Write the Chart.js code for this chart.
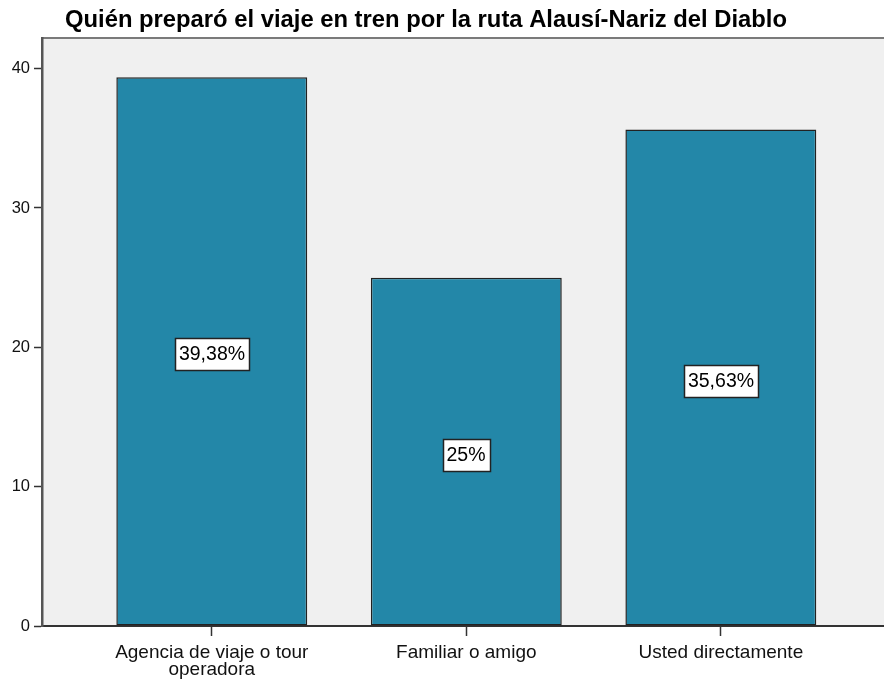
<!DOCTYPE html>
<html>
<head>
<meta charset="utf-8">
<script src="https://cdn.jsdelivr.net/npm/chart.js@4.4.0/dist/chart.umd.min.js"></script>
<style>
  html, body { margin: 0; padding: 0; background: #fff; }
  #wrap { width: 884px; height: 686px; position: relative; }
</style>
</head>
<body>
<div id="wrap"><canvas id="chart"></canvas></div>
<script>
// values
const chartTitle = 'Quién preparó el viaje en tren por la ruta Alausí-Nariz del Diablo';
const categories = [['Agencia de viaje o tour', 'operadora'], 'Familiar o amigo', 'Usted directamente'];
const percentages = [39.38, 25, 35.63];
const yTicks = [0, 10, 20, 30, 40];

const FONT = '"Liberation Sans", Arial, sans-serif';

// gray plot area and the thin frame line on top
const plotBackground = {
    id: 'plotBackground',
    beforeDraw(chart) {
        const { ctx, chartArea: a } = chart;
        ctx.save();
        ctx.fillStyle = '#f0f0f0';
        ctx.fillRect(a.left, a.top, a.right - a.left, a.bottom - a.top);
        ctx.strokeStyle = '#7a7a7a';
        ctx.lineWidth = 2;
        ctx.beginPath();
        ctx.moveTo(a.left, a.top);
        ctx.lineTo(a.right, a.top);
        ctx.stroke();
        ctx.restore();
    }
};

// white boxed percentage in the middle of each bar
const barLabels = {
    id: 'barLabels',
    afterDatasetsDraw(chart) {
        const ctx = chart.ctx;
        const meta = chart.getDatasetMeta(0);
        ctx.save();
        ctx.font = '19.5px ' + FONT;
        ctx.textAlign = 'center';
        ctx.textBaseline = 'middle';
        meta.data.forEach((bar, i) => {
            const txt = String(percentages[i]).replace('.', ',') + '%';
            const w = Math.round(ctx.measureText(txt).width + 8);
            const h = 32;
            const cx = Math.round(bar.x);
            const cy = Math.round((bar.y + bar.base) / 2 + 3);
            const left = Math.round(cx - w / 2) + 0.5;
            const top = cy - h / 2 + 0.5;
            ctx.fillStyle = '#fff';
            ctx.fillRect(left, top, w, h);
            ctx.strokeStyle = '#222';
            ctx.lineWidth = 1.5;
            ctx.strokeRect(left, top, w, h);
            ctx.fillStyle = '#000';
            ctx.fillText(txt, cx, cy + 1);
        });
        ctx.restore();
    }
};

// title sits a little left of the canvas centre, so draw it by hand
const titleText = {
    id: 'titleText',
    afterDraw(chart) {
        const ctx = chart.ctx;
        ctx.save();
        ctx.font = 'bold 23.8px ' + FONT;
        ctx.fillStyle = '#000';
        ctx.textAlign = 'center';
        ctx.textBaseline = 'alphabetic';
        ctx.fillText(chartTitle, 426, 27);
        ctx.restore();
    }
};

new Chart(document.getElementById('chart'), {
    type: 'bar',
    data: {
        datasets: [{
            data: percentages.map((v, i) => ({ x: i, y: v })),
            backgroundColor: '#2387a8',
            borderColor: '#222',
            borderWidth: 1.5,
            borderSkipped: false,
            categoryPercentage: 0.75,
            barPercentage: 1
        }]
    },
    options: {
        responsive: true,
        maintainAspectRatio: false,
        animation: false,
        layout: { padding: { top: 38, left: 0, right: 0, bottom: 0 } },
        plugins: {
            legend: { display: false },
            tooltip: { enabled: false }
        },
        scales: {
            x: {
                type: 'linear',
                min: -0.667,
                max: 2.641,
                offset: false,
                afterBuildTicks: s => { s.ticks = categories.map((c, i) => ({ value: i })); },
                afterFit: s => { s.height = 60; },
                ticks: {
                    callback: v => categories[v],
                    font: { family: FONT, size: 19, lineHeight: 0.9 },
                    color: '#111',
                    padding: 8,
                    maxRotation: 0,
                    autoSkip: false
                },
                grid: { offset: false, drawOnChartArea: false, tickLength: 10, tickColor: '#333', tickWidth: 1.5 },
                border: { color: '#333', width: 2 }
            },
            y: {
                min: 0,
                max: 42.2,
                afterBuildTicks: s => { s.ticks = yTicks.map(v => ({ value: v })); },
                afterFit: s => { s.width = 42; },
                ticks: { font: { family: FONT, size: 16.5 }, color: '#111', padding: 4 },
                grid: { drawOnChartArea: false, tickLength: 8, tickColor: '#333', tickWidth: 1.5 },
                border: { color: '#555', width: 2.5 }
            }
        }
    },
    plugins: [plotBackground, barLabels, titleText]
});
</script>
</body>
</html>
